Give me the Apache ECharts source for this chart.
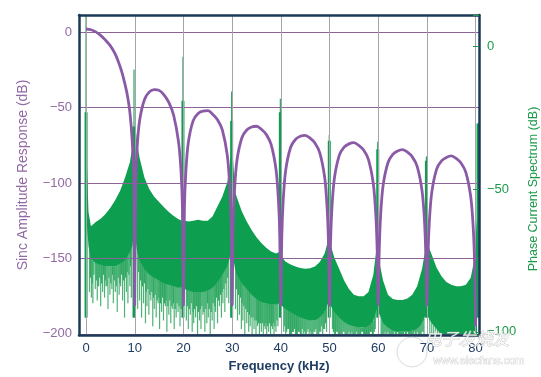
<!DOCTYPE html>
<html><head><meta charset="utf-8">
<script src="https://cdn.jsdelivr.net/npm/echarts@6/dist/echarts.min.js"></script>
<style>html,body{margin:0;padding:0;background:#fff}#c{width:541px;height:377px}</style>
</head><body><div id="c"></div>
<script>
// ---- tick labels ----
const xTickValues = [0, 10, 20, 30, 40, 50, 60, 70, 80];
const leftTickValues = [-200, -150, -100, -50, 0];
const rightTickValues = [-100, -50, 0];

// ---- Sinc amplitude response (left axis, dB) ----
const sincX = [
  0, 1, 2, 3, 4, 5, 6, 7, 7.5, 8, 8.5, 9, 9.5, 9.8, 10,
  10.2, 10.5, 11, 12, 13, 14, 15, 16, 17, 18, 19, 19.5, 19.8, 20,
  20.2, 20.5, 21, 22, 23, 24, 25, 26, 27, 28, 29, 29.5, 29.8, 30,
  30.2, 30.5, 31, 32, 33, 34, 35, 36, 37, 38, 39, 39.5, 39.8, 40,
  40.2, 40.5, 41, 42, 43, 44, 45, 46, 47, 48, 49, 49.5, 49.8, 50,
  50.2, 50.5, 51, 52, 53, 54, 55, 56, 57, 58, 59, 59.5, 59.8, 60,
  60.2, 60.5, 61, 62, 63, 64, 65, 66, 67, 68, 69, 69.5, 69.8, 70,
  70.2, 70.5, 71, 72, 73, 74, 75, 76, 77, 78, 79, 79.5, 79.8, 80
];
const sincDb = [
  2.2, 1.7, 0.3, -2.0, -5.2, -9.0, -14.5, -22.8, -28, -34.5, -42, -53, -73, -97, -181,
  -99.6, -76, -58.5, -44.6, -39.5, -38.0, -38.5, -41.5, -46.5, -55.2, -72.8, -92, -116.8, -181,
  -116.5, -92.1, -73.1, -58.6, -53.8, -52.2, -52, -54.3, -58, -64.9, -81.5, -101.6, -126.7, -181,
  -128.6, -104, -84.7, -69.9, -64.8, -62.8, -62.3, -64.3, -67.7, -74.3, -90.7, -110.8, -135.7, -181,
  -135.5, -110.9, -91.5, -76.4, -71.1, -69.0, -68.3, -70.2, -73.4, -79.9, -96.1, -116.1, -141, -181,
  -140.9, -116.3, -96.8, -81.6, -76.2, -74.0, -73.2, -75.0, -78.1, -84.5, -100.6, -120.6, -145.5, -181,
  -145.9, -121.2, -101.7, -86.5, -81, -78.7, -77.8, -79.5, -82.6, -88.9, -105, -124.8, -149.8, -181,
  -150.4, -125.7, -106.2, -90.8, -85.3, -83.0, -82, -83.6, -86.7, -92.9, -109, -128.8, -153.7, -195
];

// ---- Phase current spectrum (right axis, dB): dense band envelope ----
const bandX = [
  0.15, 0.5, 1, 2, 3, 4, 5, 6, 7, 8, 9, 9.5, 9.8,
  10.2, 10.5, 11, 12, 13, 14, 15, 16, 17, 18, 19, 19.7,
  20.3, 21, 22, 23, 24, 25, 26, 27, 28, 29, 29.5, 29.8,
  30.2, 30.6, 31, 32, 33, 34, 35, 36, 37, 38, 39, 39.7,
  40.3, 41, 42, 43, 44, 45, 46, 47, 48, 49, 49.7,
  50.3, 51, 52, 53, 54, 55, 56, 57, 58, 59, 59.7,
  60.3, 61, 62, 63, 64, 65, 66, 67, 68, 69, 69.7,
  70.3, 71, 72, 73, 74, 75, 76, 77, 78, 79, 79.7, 80.3
];
const bandHigh = [
  -40, -58, -63, -61.5, -60.3, -58.7, -56.5, -53.8, -50.5, -46, -40.5, -35, -29,
  -29, -34, -39, -46, -50, -52.6, -54.5, -56.3, -58, -59.4, -60.5, -61,
  -61, -61.3, -61, -60.7, -61, -61, -59.5, -56, -52.5, -47.5, -42, -37,
  -40, -50.8, -53, -57.8, -61.3, -64.3, -66.8, -68.8, -70.5, -71.8, -72.5, -72,
  -74, -75.4, -76.4, -77.1, -77.6, -77.9, -77.7, -77.1, -75.5, -72.5, -68,
  -70, -74, -78, -82, -85, -87, -87.5, -87.5, -86, -80, -70,
  -76, -82, -87, -88.5, -88.8, -88.8, -88.3, -87, -84, -78, -71,
  -70, -73, -77.5, -80.5, -82.5, -83.5, -84, -84, -83.5, -81, -75, -60
];
const bandLow = [
  -62, -70, -74, -76, -76.5, -77, -77, -77, -76, -75, -72, -70, -66,
  -68, -72, -75, -78, -80, -81, -82, -83, -83.5, -84, -84.5, -84.5,
  -85, -85.5, -86, -86, -86, -85.5, -84.5, -82.5, -80, -77, -74, -72,
  -74, -78, -80, -83, -85, -87, -88.5, -89.5, -90, -90.5, -90.5, -90,
  -91, -92, -93, -94, -95, -95.5, -96, -96, -95, -93, -90,
  -91, -93, -95, -96.5, -97.5, -98, -98.5, -98.5, -98, -96, -92,
  -94, -97, -98.5, -99.5, -100, -100, -100, -99.5, -99, -97, -94,
  -95, -97, -99, -101, -101, -101, -101, -101, -101, -101, -101, -101
];

// ---- long thin downward noise lines below the band (tips, right axis dB) ----
const spikeX = [
  0.7, 1.1, 1.4, 1.9, 2.3, 2.6, 3.0, 3.4, 3.8, 4.1, 4.5, 4.9, 5.3, 5.6, 6.0, 6.4, 6.8, 7.1, 7.5, 7.9, 8.3, 8.6, 9.0, 9.3,
  10.6, 11.0, 11.4, 11.8, 12.2, 12.5, 12.9, 13.3, 13.7, 14.0, 14.4, 14.8, 15.1, 15.5, 15.9, 16.3, 16.6, 17.0, 17.4, 17.8, 18.1, 18.5, 18.9, 19.3,
  20.6, 21.0, 21.4, 21.8, 22.1, 22.5, 22.9, 23.3, 23.6, 24.0, 24.4, 24.8, 25.1, 25.5, 25.9, 26.3, 26.6, 27.0, 27.4, 27.8, 28.1, 28.5, 28.9, 29.3,
  30.7, 31.1, 31.5, 31.9, 32.2, 32.6, 33.0, 33.4, 33.7, 34.1, 34.5, 34.9, 35.2, 35.6, 36.0, 36.4, 36.8, 37.1, 37.5, 37.9, 38.3, 38.6, 39.0, 39.4,
  40.6, 41.0, 41.4, 41.8, 42.2, 42.6, 43.0, 43.4, 43.8, 44.2, 44.6, 45.0, 45.4, 45.8, 46.2, 46.6, 47.0, 47.4, 47.8, 48.2, 48.6, 49.0, 49.4,
  50.6, 51.0, 51.4, 51.8, 52.2, 52.6, 53.0, 53.4, 53.8, 54.2, 54.6, 55.0, 55.4, 55.8, 56.2, 56.6, 57.0, 57.4, 57.8, 58.2, 58.6, 59.0, 59.4,
  60.6, 61.0, 61.4, 61.8, 62.2, 62.6, 63.0, 63.4, 63.8, 64.2, 64.6, 65.0, 65.4, 65.8, 66.2, 66.6, 67.0, 67.4, 67.8, 68.2, 68.6, 69.0, 69.4,
  70.6, 71.0, 71.4, 71.8, 72.2, 72.6
];
const spikeTip = [
  -86, -88, -90, -85, -89, -84, -91, -86, -88, -84, -92, -87, -85, -90, -86, -93, -87, -84, -89, -95, -86, -90, -84, -88,
  -92, -89, -95, -90, -97, -91, -94, -89, -98, -92, -95, -90, -99, -93, -96, -91, -100, -94, -97, -92, -99, -95, -93, -98,
  -96, -99, -94, -100, -97, -95, -101, -96, -99, -94, -100, -97, -95, -101, -96, -99, -93, -97, -91, -95, -90, -93, -88, -90,
  -92, -96, -94, -99, -96, -101, -97, -100, -98, -101, -99, -101, -98, -101, -100, -101, -99, -101, -100, -101, -99, -101, -100, -98,
  -100, -101, -99, -101, -101, -100, -101, -101, -100, -101, -101, -101, -100, -101, -101, -101, -100, -101, -101, -100, -101, -99, -100,
  -99, -101, -100, -101, -101, -101, -100, -101, -101, -101, -100, -101, -101, -101, -101, -100, -101, -101, -101, -101, -100, -101, -99,
  -101, -101, -100, -101, -101, -101, -101, -100, -101, -101, -101, -101, -100, -101, -101, -101, -101, -100, -101, -101, -101, -100, -101,
  -101, -101, -101, -101, -101, -101
];

// ---- shorter noise lines making the band's lower edge ragged ----
const stubX = [
  0.9, 1.25, 1.6, 2.1, 2.45, 2.8, 3.2, 3.6, 3.95, 4.3, 4.7, 5.1, 5.45, 5.8, 6.2, 6.6, 6.95, 7.3, 7.7, 8.1, 8.45, 8.8, 9.15,
  10.8, 11.2, 11.6, 12.0, 12.35, 12.7, 13.1, 13.5, 13.85, 14.2, 14.6, 14.95, 15.3, 15.7, 16.1, 16.45, 16.8, 17.2, 17.6, 17.95, 18.3, 18.7, 19.1, 19.5,
  20.8, 21.2, 21.6, 22.0, 22.3, 22.7, 23.1, 23.45, 23.8, 24.2, 24.6, 24.95, 25.3, 25.7, 26.1, 26.45, 26.8, 27.2, 27.6, 27.95, 28.3, 28.7, 29.1,
  30.9, 31.3, 31.7, 32.05, 32.4, 32.8, 33.2, 33.55, 33.9, 34.3, 34.7, 35.05, 35.4, 35.8, 36.2, 36.6, 36.95, 37.3, 37.7, 38.1, 38.45, 38.8, 39.2,
  40.8, 41.2, 41.6, 42.0, 42.4, 42.8, 43.2, 43.6, 44.0, 44.4, 44.8, 45.2, 45.6, 46.0, 46.4, 46.8, 47.2, 47.6, 48.0, 48.4, 48.8, 49.2,
  50.8, 51.2, 51.6, 52.0, 52.4, 52.8, 53.2, 53.6, 54.0, 54.4, 54.8, 55.2, 55.6, 56.0, 56.4, 56.8, 57.2, 57.6, 58.0, 58.4, 58.8, 59.2,
  60.8, 61.2, 61.6, 62.0, 62.4, 62.8, 63.2, 63.6, 64.0, 64.4, 64.8, 65.2, 65.6, 66.0, 66.4, 66.8, 67.2, 67.6, 68.0, 68.4, 68.8, 69.2
];
const stubTip = [
  -81, -83, -80, -82, -84, -81, -83, -80, -82, -84, -81, -83, -80, -82, -84, -81, -83, -80, -82, -81, -79, -80, -77,
  -79, -82, -84, -83, -86, -85, -87, -86, -88, -87, -89, -88, -90, -88, -90, -89, -91, -89, -91, -90, -92, -90, -91, -92,
  -91, -92, -90, -93, -92, -91, -93, -92, -91, -93, -92, -90, -92, -93, -90, -91, -88, -89, -87, -86, -85, -83, -81,
  -85, -87, -88, -90, -91, -92, -93, -94, -95, -95, -96, -96, -97, -97, -97, -98, -97, -98, -97, -98, -97, -98, -96,
  -98, -100, -99, -101, -100, -99, -101, -100, -101, -99, -100, -101, -99, -100, -101, -100, -99, -101, -100, -98, -99, -97,
  -100, -101, -100, -101, -101, -100, -101, -101, -100, -101, -101, -101, -100, -101, -101, -100, -101, -101, -101, -100, -101, -100,
  -101, -101, -101, -100, -101, -101, -101, -101, -100, -101, -101, -101, -101, -100, -101, -101, -101, -101, -100, -101, -101, -100
];

// ---- harmonic lines of the phase current spectrum ----
const harmX = [0, 9.85, 19.9, 29.9, 39.9, 49.95, 59.9, 69.9, 80.5];
const harmPeak = [11, -8, -3.5, -15.7, -18.3, -31, -33.3, -38.5, -26.8];
const harmBody = [-23, -28, -19, -26, -23, -33, -36, -40, -27];

// ---- styles ----
const NAVY = '#1c3a58';
const PURPLE = '#8a5aa6';
const PURPLE_TXT = '#9169a3';
const GREEN = '#0e9e4f';
const GREEN_TXT = '#1b9a4a';
const FONT = '"Liberation Sans", Arial, Helvetica, sans-serif';
const X_MIN = -1.45, X_MAX = 80.7;
const L_MIN = -200.8, L_MAX = 11.5;
const R_MIN = -101.1, R_MAX = 11.1;

function fmt(v, list) {
  for (const t of list) if (Math.abs(v - t) < 1e-6) return t < 0 ? '\u2212' + (-t) : String(t);
  return '';
}
function lowAt(x) {
  for (let i = 0; i < bandX.length - 1; i++) {
    if (bandX[i] <= x && bandX[i + 1] >= x) return Math.max(bandLow[i], bandLow[i + 1]);
  }
  return R_MIN;
}
function noiseSeries(xs, tips, color, width) {
  return {
    type: 'custom', xAxisIndex: 0, yAxisIndex: 1, z: 1, silent: true,
    data: xs.map((x, i) => [x, tips[i]]),
    renderItem: (params, api) => {
      const x = api.value(0), tip = api.value(1);
      const a = api.coord([x, lowAt(x)]), b = api.coord([x, tip]);
      return { type: 'line', shape: { x1: a[0], y1: a[1], x2: b[0], y2: b[1] },
               style: { stroke: color, lineWidth: width } };
    }
  };
}

const chart = echarts.init(document.getElementById('c'), null, { renderer: 'canvas' });
chart.setOption({
  animation: false,
  backgroundColor: '#ffffff',
  grid: { left: 79, right: 62, top: 15, bottom: 42, containLabel: false, outerBoundsMode: 'none' },
  xAxis: [
    {
      type: 'value', min: X_MIN, max: X_MAX, minInterval: 10, maxInterval: 10, splitNumber: 8, z: 3,
      axisLine: { show: true, onZero: false, lineStyle: { color: NAVY, width: 2.5 } },
      axisTick: { show: false },
      axisLabel: { margin: 7, color: '#1f3c62', fontSize: 13, fontFamily: FONT, formatter: v => fmt(v, xTickValues) },
      splitLine: { show: true, showMinLine: false, showMaxLine: false, lineStyle: { color: '#a4a4ad', width: 1 } },
      name: 'Frequency (kHz)', nameLocation: 'middle', nameGap: 22,
      nameTextStyle: { color: '#1f3c62', fontSize: 13, fontWeight: 'bold', fontFamily: FONT }
    },
    {
      type: 'value', position: 'top', min: X_MIN, max: X_MAX, z: 3,
      axisLine: { show: true, onZero: false, lineStyle: { color: NAVY, width: 2.5 } },
      axisTick: { show: false }, axisLabel: { show: false }, splitLine: { show: false }
    }
  ],
  yAxis: [
    {
      type: 'value', position: 'left', min: L_MIN, max: L_MAX, minInterval: 50, maxInterval: 50, splitNumber: 4, z: 3,
      axisLine: { show: true, onZero: false, lineStyle: { color: NAVY, width: 2.5 } },
      axisTick: { show: false },
      axisLabel: { margin: 7, color: PURPLE_TXT, fontSize: 13, fontFamily: FONT, formatter: v => fmt(v, leftTickValues) },
      splitLine: { show: true, showMinLine: false, showMaxLine: false, lineStyle: { color: '#8d6498', width: 1 } },
      name: 'Sinc Amplitude Response (dB)', nameLocation: 'middle', nameGap: 49, nameRotate: 90,
      nameTextStyle: { color: PURPLE_TXT, fontSize: 14, fontFamily: FONT }
    },
    {
      type: 'value', position: 'right', min: R_MIN, max: R_MAX, minInterval: 50, maxInterval: 50, splitNumber: 2, z: 3,
      axisLine: { show: true, onZero: false, lineStyle: { color: NAVY, width: 2.5 } },
      axisTick: { show: true, inside: true, length: 6, lineStyle: { color: GREEN_TXT, width: 1 } },
      axisLabel: { margin: 8, color: GREEN_TXT, fontSize: 13, fontFamily: FONT, formatter: v => fmt(v, rightTickValues) },
      splitLine: { show: false },
      name: 'Phase Current Spectrum (dB)', nameLocation: 'middle', nameGap: 45, nameRotate: 90,
      nameTextStyle: { color: GREEN_TXT, fontSize: 12.5, fontFamily: FONT, padding: [0, 28, 0, 0] }
    }
  ],
  series: [
    noiseSeries(spikeX, spikeTip, '#4db275', 1.2),
    noiseSeries(stubX, stubTip, '#2ea862', 1.2),
    {
      name: 'band', type: 'custom', xAxisIndex: 0, yAxisIndex: 1, z: 2, silent: true,
      data: [[bandX[0], bandHigh[0]]],
      renderItem: (params, api) => {
        const pts = [];
        for (let i = 0; i < bandX.length; i++) pts.push(api.coord([bandX[i], bandHigh[i]]));
        for (let i = bandX.length - 1; i >= 0; i--) pts.push(api.coord([bandX[i], bandLow[i]]));
        return { type: 'polygon', shape: { points: pts }, style: { fill: GREEN } };
      }
    },
    {
      name: 'harmonics', type: 'custom', xAxisIndex: 0, yAxisIndex: 1, z: 2, silent: true,
      data: harmX.map((x, i) => [x, harmPeak[i], harmBody[i]]),
      renderItem: (params, api) => {
        const x = api.value(0);
        const p = api.coord([x, api.value(1)]), q = api.coord([x, api.value(2)]), o = api.coord([x, -95]);
        return { type: 'group', children: [
          { type: 'line', shape: { x1: p[0], y1: p[1], x2: o[0], y2: o[1] }, style: { stroke: '#2aa45c', lineWidth: 1.2 } },
          { type: 'line', shape: { x1: q[0], y1: q[1], x2: o[0], y2: o[1] }, style: { stroke: GREEN, lineWidth: 3 } }
        ] };
      }
    },
    {
      name: 'sinc', type: 'line', xAxisIndex: 0, yAxisIndex: 0, z: 5, silent: true,
      data: sincX.map((x, i) => [x, sincDb[i]]),
      showSymbol: false, smooth: 0.3,
      lineStyle: { color: PURPLE, width: 2.8 }
    }
  ],
  graphic: [
    { type: 'circle', z: 20, shape: { cx: 412, cy: 352, r: 15 }, style: { fill: 'none', stroke: 'rgba(150,150,150,0.35)', lineWidth: 1 } },
    { type: 'text', z: 20, left: 424, top: 330, style: { text: '电子发烧友', font: 'italic 17px "Noto Sans CJK SC"', fill: 'rgba(255,255,255,0.85)', stroke: 'rgba(140,140,140,0.55)', lineWidth: 0.8 } },
    { type: 'text', z: 20, left: 433, top: 355, style: { text: 'www.elecfans.com', font: '11px "Liberation Sans"', fill: 'rgba(255,255,255,0.9)', stroke: 'rgba(140,140,140,0.5)', lineWidth: 0.7 } }
  ]
});
</script>
</body></html>
